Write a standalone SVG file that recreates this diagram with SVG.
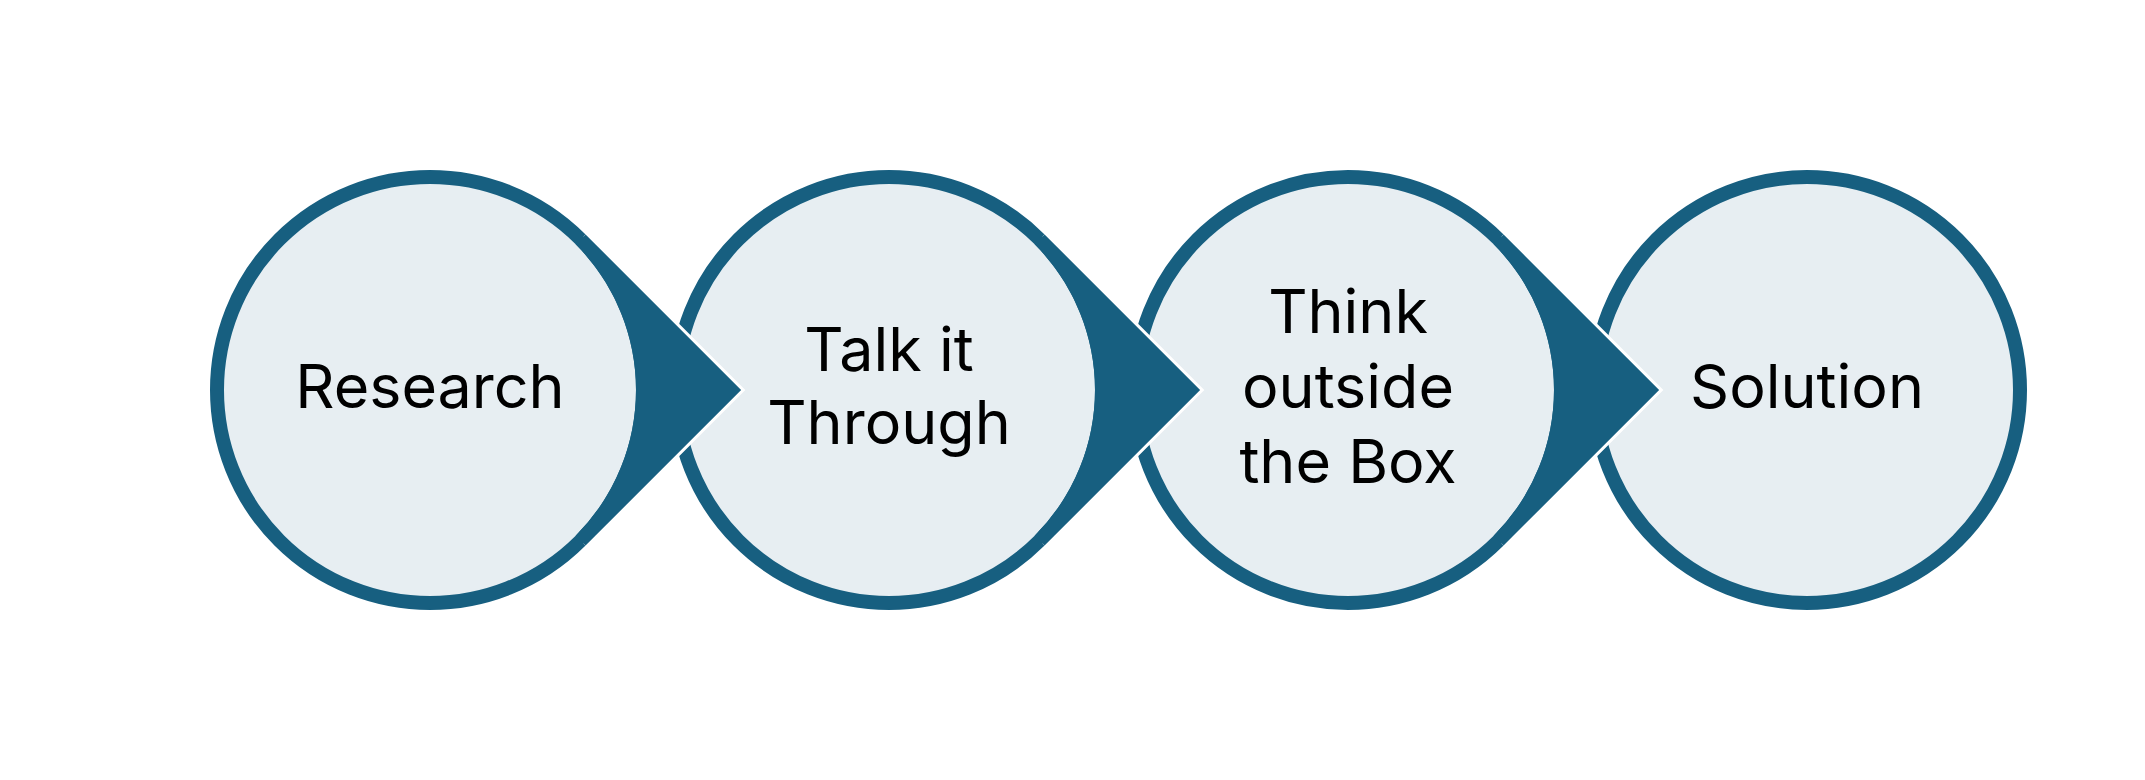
<svg xmlns="http://www.w3.org/2000/svg" width="2145" height="780" viewBox="0 0 2145 780">
<style>
.ring{fill:#E7EEF2;stroke:#175F80;stroke-width:14}
.lbl{font-family:Inter,"Liberation Sans",Arial,sans-serif;font-size:61px;fill:#000;text-anchor:middle}
.ptw{fill:none;stroke:#fff;stroke-width:6;stroke-linejoin:miter}
.pt{fill:#175F80}
</style>
<rect width="2145" height="780" fill="#fff"/>
<g id="node-research">
<circle class="ring" cx="430" cy="390" r="213"/>
<text class="lbl" x="430" y="408">Research</text>
</g>
<g id="node-talk">
<circle class="ring" cx="889" cy="390" r="213"/>
<text class="lbl" x="889" y="371">Talk it</text>
<text class="lbl" x="889" y="444">Through</text>
</g>
<g id="node-think">
<circle class="ring" cx="1348" cy="390" r="213"/>
<text class="lbl" x="1348" y="333">Think</text>
<text class="lbl" x="1348" y="408">outside</text>
<text class="lbl" x="1348" y="483">the Box</text>
</g>
<g id="node-solution">
<circle class="ring" cx="1807" cy="390" r="213"/>
<text class="lbl" x="1807" y="408">Solution</text>
</g>
<g id="connectors">
<g id="c1" transform="translate(430 0)">
<polyline class="ptw" points="155.56,234.44 311.13,390 155.56,545.56"/>
<path class="pt" d="M155.56,234.44 L311.13,390 L155.56,545.56 L145.66,535.66 A206 206 0 0 0 145.66,244.34 Z"/>
</g>
<g id="c2" transform="translate(889 0)">
<polyline class="ptw" points="155.56,234.44 311.13,390 155.56,545.56"/>
<path class="pt" d="M155.56,234.44 L311.13,390 L155.56,545.56 L145.66,535.66 A206 206 0 0 0 145.66,244.34 Z"/>
</g>
<g id="c3" transform="translate(1348 0)">
<polyline class="ptw" points="155.56,234.44 311.13,390 155.56,545.56"/>
<path class="pt" d="M155.56,234.44 L311.13,390 L155.56,545.56 L145.66,535.66 A206 206 0 0 0 145.66,244.34 Z"/>
</g>
</g>
</svg>
